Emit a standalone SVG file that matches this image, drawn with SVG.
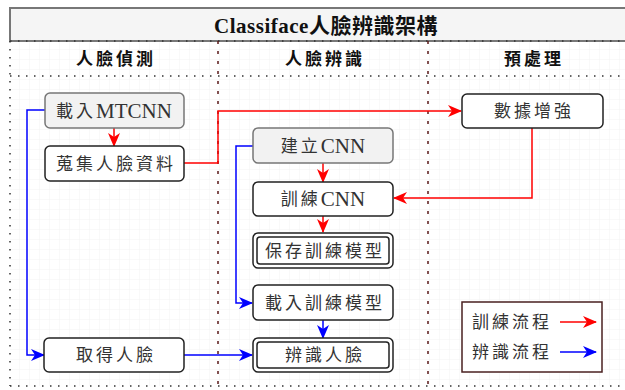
<svg xmlns="http://www.w3.org/2000/svg" width="625" height="390" viewBox="0 0 625 390">
<defs>
<pattern id="grid" width="10" height="10" patternUnits="userSpaceOnUse">
<path d="M10 0V10H0" fill="none" stroke="#f3f3f3" stroke-width="1"/>
</pattern>
<marker id="ar" viewBox="0 0 14 12" refX="13" refY="6" markerWidth="14" markerHeight="12" markerUnits="userSpaceOnUse" orient="auto">
<path d="M0 0L14 6L0 12L4 6Z" fill="#ff0000"/>
</marker>
<marker id="ab" viewBox="0 0 14 12" refX="13" refY="6" markerWidth="14" markerHeight="12" markerUnits="userSpaceOnUse" orient="auto">
<path d="M0 0L14 6L0 12L4 6Z" fill="#0000ff"/>
</marker>
</defs>
<style>
text{font-family:"Liberation Serif","Noto Sans CJK TC",serif;font-size:17px;letter-spacing:3px;fill:#333;text-anchor:middle;dominant-baseline:central}
.la{font-size:21px;letter-spacing:0}
.hd{font-weight:bold;fill:#111;font-size:17px;letter-spacing:3px}
.tt{font-weight:bold;fill:#111;font-size:21px;letter-spacing:0.5px}
.lg{text-anchor:start}
.n{fill:#fff;stroke:#222;stroke-width:1.5}
.g{fill:#f2f2f2;stroke:#777;stroke-width:1.5}
.dot{stroke:#333;stroke-width:1.5;stroke-dasharray:1.5 6.5;fill:none}
.col{stroke:#5a1a1a;stroke-width:1.5;stroke-dasharray:3 7;fill:none}
.r{stroke:#ff0000;stroke-width:1.5;fill:none;marker-end:url(#ar)}
.b{stroke:#0000ff;stroke-width:1.5;fill:none;marker-end:url(#ab)}
</style>
<rect x="0" y="0" width="625" height="390" fill="#fff"/>
<rect x="10" y="41" width="615" height="345" fill="url(#grid)"/>
<g id="frame">
<rect x="10" y="8" width="620" height="33" fill="#f5f5f5" stroke="#777" stroke-width="2"/>
<text class="tt" x="326" y="26">Classiface人臉辨識架構</text>
<path class="dot" d="M10 41H625M10 76H625M10 386H625M10 41V386"/>
<path class="col" d="M218 41V386M428 41V386"/>
<text class="hd" x="116" y="59">人臉偵測</text>
<text class="hd" x="325" y="59">人臉辨識</text>
<text class="hd" x="534" y="59">預處理</text>
</g>
<g id="connectors">
<path class="r" d="M114 128V146"/>
<path class="r" d="M184 163H218V111H461"/>
<path class="r" d="M532 128V198H394"/>
<path class="r" d="M323 163V182"/>
<path class="r" d="M323 216V232"/>
<path class="b" d="M45 110H27V355H44"/>
<path class="b" d="M184 355H252"/>
<path class="b" d="M253 146H236V303H252"/>
<path class="b" d="M323 320V338"/>
</g>
<g id="n1"><rect class="g" x="45" y="93" width="139" height="35" rx="5"/><text x="114" y="111">載入<tspan class="la">MTCNN</tspan></text></g>
<g id="n2"><rect class="n" x="45" y="146" width="139" height="35" rx="5"/><text x="116" y="164">蒐集人臉資料</text></g>
<g id="n3"><rect class="n" x="44" y="338" width="140" height="34" rx="5"/><text x="116" y="355">取得人臉</text></g>
<g id="n4"><rect class="n" x="462" y="94" width="141" height="34" rx="5"/><text x="534" y="111">數據增強</text></g>
<g id="n5"><rect class="g" x="253" y="128" width="140" height="35" rx="5"/><text x="323" y="146">建立<tspan class="la">CNN</tspan></text></g>
<g id="n6"><rect class="n" x="253" y="182" width="140" height="34" rx="5"/><text x="323" y="199">訓練<tspan class="la">CNN</tspan></text></g>
<g id="n7"><rect class="n" x="253" y="233" width="140" height="35" rx="5"/><rect x="257" y="237" width="132" height="27" rx="3" fill="none" stroke="#222" stroke-width="1.5"/><text x="325" y="251">保存訓練模型</text></g>
<g id="n8"><rect class="n" x="253" y="285" width="140" height="35" rx="5"/><text x="325" y="303">載入訓練模型</text></g>
<g id="n9"><rect class="n" x="253" y="338" width="140" height="34" rx="5"/><rect x="257" y="342" width="132" height="26" rx="3" fill="none" stroke="#222" stroke-width="1.5"/><text x="325" y="355">辨識人臉</text></g>
<g id="legend">
<rect x="462" y="302" width="140" height="70" fill="#fff" stroke="#4a2020" stroke-width="1.5"/>
<text class="lg" x="472" y="322">訓練流程</text>
<text class="lg" x="472" y="352">辨識流程</text>
<path class="r" d="M560 322H596"/>
<path class="b" d="M560 352H596"/>
</g>
</svg>
